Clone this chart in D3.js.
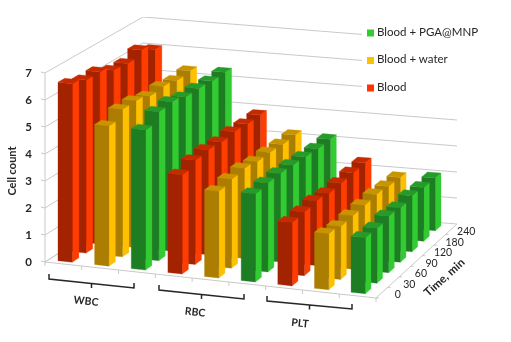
<!DOCTYPE html>
<html><head><meta charset="utf-8">
<script src="https://cdnjs.cloudflare.com/ajax/libs/d3/7.8.5/d3.min.js"></script>
<style>html,body{margin:0;background:#fff}svg{display:block}text{font-family:Lato,sans-serif;fill:#262626}</style>
</head><body><svg id="c" width="511" height="342"><defs><filter id="soft" x="0" y="0" width="100%" height="100%"><feGaussianBlur stdDeviation="0.35"/></filter></defs></svg>
<script>
const groups = ["WBC","RBC","PLT"];
const seriesNames = ["Blood","Blood + water","Blood + PGA@MNP"];
const times = ["0","30","60","90","120","180","240"];
const yTicks = [0,1,2,3,4,5,6,7];
const wbcBlood = [6.62,6.45,6.45,6.2,6.15,6.35,6.05];
const wbcWater = [5.2,5.5,5.5,5.35,5.4,5.3,5.35];
const wbcPga   = [5.2,5.55,5.6,5.45,5.45,5.4,5.4];
const rbcBlood = [3.68,3.88,3.93,3.88,3.93,3.88,3.88];
const rbcWater = [3.22,3.32,3.37,3.27,3.27,3.22,3.22];
const rbcPga   = [3.27,3.32,3.32,3.27,3.22,3.17,3.17];
const pltBlood = [2.35,2.38,2.42,2.33,2.35,2.38,2.38];
const pltWater = [2.08,1.98,2.0,2.02,2.05,1.97,1.93];
const pltPga   = [2.08,2.05,2.12,2.05,2.12,2.05,2.02];
const columns = [wbcBlood,wbcWater,wbcPga,rbcBlood,rbcWater,rbcPga,pltBlood,pltWater,pltPga];
const palette = [
 {front:"#a32200",side:"#ff3c00",top:"#c82b00"},
 {front:"#ab7d00",side:"#ffc000",top:"#c89500"},
 {front:"#1f7d22",side:"#33cc33",top:"#289a2a"}];
const swatch = ["#ff3300","#ffc000","#33cc33"];

const svg = d3.select("#c");
// floor corners: front-left, front-right, back-right, back-left
const Q = [[45,262],[376,298],[457,224],[143,199]];
function floor(u,v){
  const w=[(1-u)*(1-v),u*(1-v),u*v,(1-u)*v];
  return [d3.sum(Q,(q,i)=>q[0]*w[i]),d3.sum(Q,(q,i)=>q[1]*w[i])];
}
const unit = d3.scaleLinear().domain([0,1]).range([27,26]);
function pt(u,v,val){const [x,y]=floor(u,v);
  const hs=d3.scaleLinear().domain([0,7]).range([0,7*unit(v)]);return [x,y-hs(val)];}
const uBand = d3.scaleBand().domain(d3.range(9)).range([-0.005,0.992]).paddingInner(.61).paddingOuter(.3);
const vBand = d3.scaleBand().domain(times).range([0,1]).paddingInner(.52).paddingOuter(.26);
const line = d3.line();
const g = svg.append("g").attr("filter","url(#soft)");
const grid = "#c9c9c9";

// wall gridlines
yTicks.forEach(t=>{
  const a=pt(0,0,t),b=pt(0,1,t);
  g.append("path").attr("d",line([a,b])).attr("fill","none").attr("stroke",grid).attr("stroke-width",1);
  let c=pt(1,1,t);
  if(t>=5){const k=(362-b[0])/(c[0]-b[0]);c=[362,b[1]+k*(c[1]-b[1])];}
  if(t>0) g.append("path").attr("d",line([b,c])).attr("fill","none").attr("stroke",grid).attr("stroke-width",1);
  g.append("path").attr("d",line([[a[0]-4,a[1]-1],a])).attr("stroke",grid).attr("fill","none");
  g.append("text").attr("x",a[0]-13).attr("y",a[1]+1).attr("text-anchor","end").attr("dominant-baseline","middle")
    .attr("font-size",11.5).attr("font-weight",700).attr("fill","#333").text(t);
});
// axis and floor edges
[[pt(0,0,0),pt(0,0,7)],[pt(0,0,0),pt(1,0,0)],[pt(1,0,0),pt(1,1,0)],[pt(0,0,0),pt(0,1,0)],[pt(0,1,0),pt(1,1,0)]].forEach(s=>
  g.append("path").attr("d",line(s)).attr("fill","none").attr("stroke",grid).attr("stroke-width",1));
d3.range(10).forEach(i=>{const p=pt(i/9,0,0);
  g.append("path").attr("d",line([p,[p[0],p[1]+4]])).attr("stroke",grid).attr("fill","none");});
times.forEach((t,i)=>{
  const p=pt(1,(i+.5)/7,0), e=pt(1,i/7,0);
  g.append("path").attr("d",line([e,[e[0]+3,e[1]]])).attr("stroke",grid).attr("fill","none");
  g.append("text").attr("x",p[0]+(i<3?16:15)).attr("y",p[1]+3).attr("text-anchor","middle").attr("dominant-baseline","middle")
    .attr("font-size",10.5).attr("fill","#333").text(t);
});

// bars, painted back to front
const bars=[];
times.forEach((t,r)=>columns.forEach((vals,c)=>bars.push({t,r,c,val:vals[r]})));
bars.sort((a,b)=>d3.descending(a.r,b.r)||d3.ascending(a.c,b.c));
const poly = p=>"M"+p.map(d=>d.join(",")).join("L")+"Z";
bars.forEach(b=>{
  const u0=uBand(b.c),u1=u0+uBand.bandwidth(),v0=vBand(b.t),v1=v0+vBand.bandwidth();
  const col=palette[b.c%3];
  const faces=[
    [col.side,[pt(u1,v0,0),pt(u1,v1,0),pt(u1,v1,b.val),pt(u1,v0,b.val)]],
    [col.front,[pt(u0,v0,0),pt(u1,v0,0),pt(u1,v0,b.val),pt(u0,v0,b.val)]],
    [col.top,[pt(u0,v0,b.val),pt(u1,v0,b.val),pt(u1,v1,b.val),pt(u0,v1,b.val)]]];
  faces.forEach(([f,p])=>g.append("path").attr("d",poly(p)).attr("fill",f).attr("stroke",f).attr("stroke-width",.3));
});

// brackets + group labels
const bracket = [[49,274,134,288],[159,285,244,299],[267,296,352,309]];
const labelPos = [[86,302],[195,313],[300,324]];
groups.forEach((name,i)=>{
  const [x0,y0,x1,y1]=bracket[i];
  const mx=(x0+x1)/2,my=(y0+y1)/2;
  g.append("path").attr("d",`M${x0},${y0}L${x0},${y0+5}L${x1},${y1}L${x1},${y1-5}M${mx},${my+2}L${mx},${my+7}`)
   .attr("fill","none").attr("stroke","#262626").attr("stroke-width",1.5);
  g.append("text").attr("transform",`translate(${labelPos[i][0]},${labelPos[i][1]}) rotate(6)`)
   .attr("text-anchor","middle").attr("dominant-baseline","middle").attr("font-size",10.5).attr("font-weight",700).text(name);
});
g.append("text").attr("transform","translate(13,171) rotate(-90)").attr("text-anchor","middle").attr("dominant-baseline","middle")
  .attr("font-size",11).attr("font-weight",700).text("Cell count");
g.append("text").attr("transform","translate(445,278) rotate(-42)").attr("text-anchor","middle").attr("dominant-baseline","middle")
  .attr("font-size",11.5).attr("font-weight",700).text("Time, min");

// legend (top to bottom reversed series)
const legY = d3.scalePoint().domain([2,1,0]).range([33,88]);
[2,1,0].forEach(i=>{
  g.append("rect").attr("x",367).attr("y",legY(i)-3.5).attr("width",7).attr("height",7).attr("fill",swatch[i]);
  g.append("text").attr("x",377).attr("y",legY(i)).attr("dominant-baseline","middle").attr("font-size",11.5).text(seriesNames[i]);
});
</script></body></html>
